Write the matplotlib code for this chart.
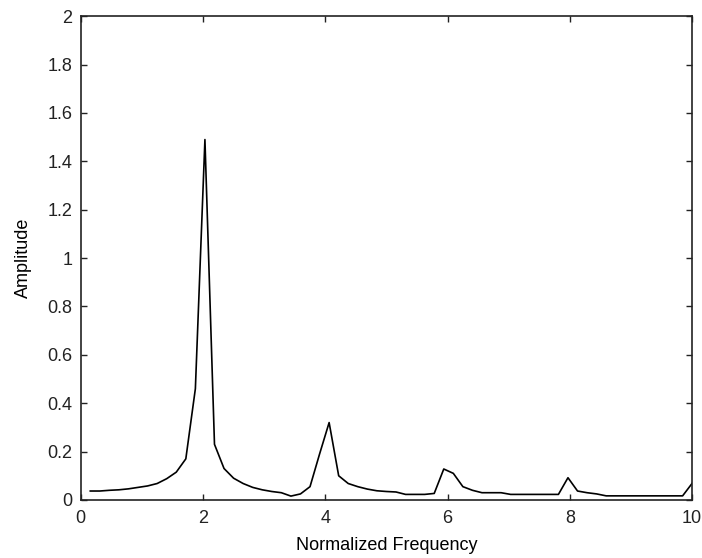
import numpy as np
import matplotlib
matplotlib.use("Agg")
import matplotlib.pyplot as plt

# amplitude spectrum, sampled every 10/64 from 10/64 up to 10
amplitude = [
    0.037, 0.037, 0.040, 0.042, 0.046, 0.052, 0.058, 0.068, 0.088, 0.115,
    0.170, 0.460, 1.490, 0.230, 0.130, 0.090, 0.068, 0.052, 0.042, 0.035,
    0.030, 0.016, 0.025, 0.055, 0.190, 0.320, 0.100, 0.068, 0.055, 0.045,
    0.038, 0.035, 0.033, 0.023, 0.023, 0.023, 0.027, 0.128, 0.110, 0.055,
    0.040, 0.030, 0.030, 0.030, 0.023, 0.023, 0.023, 0.023, 0.023, 0.023,
    0.092, 0.037, 0.030, 0.025, 0.017, 0.017, 0.017, 0.017, 0.017, 0.017,
    0.017, 0.017, 0.017, 0.069,
]
freq_step = 10 / 64
frequency = np.arange(1, len(amplitude) + 1) * freq_step

x_ticks = [0, 2, 4, 6, 8, 10]
y_ticks = [0, 0.2, 0.4, 0.6, 0.8, 1, 1.2, 1.4, 1.6, 1.8, 2]

plt.rcParams['font.family'] = ['Liberation Sans', 'DejaVu Sans']

fig = plt.figure(figsize=(7.02, 5.58), dpi=100)
ax = fig.add_axes([0.115, 0.104, 0.871, 0.867])

ax.plot(frequency, amplitude, color='k', linewidth=1.2)

ax.set_xlim(0, 10)
ax.set_ylim(0, 2)
ax.set_xticks(x_ticks)
ax.set_yticks(y_ticks)
ax.set_yticklabels(['0', '0.2', '0.4', '0.6', '0.8', '1', '1.2', '1.4', '1.6', '1.8', '2'])
ax.tick_params(direction='in', length=4.5, width=1, labelsize=13,
               top=True, right=True, colors='#222222')
ax.tick_params(axis='x', pad=7.5)
ax.tick_params(axis='y', pad=6)
for s in ax.spines.values():
    s.set_linewidth(1.2)
    s.set_color('#222222')

ax.set_xlabel('Normalized Frequency', fontsize=13, labelpad=7)
ax.set_ylabel('Amplitude', fontsize=13, labelpad=11)

fig.savefig('out.png', dpi=100)
